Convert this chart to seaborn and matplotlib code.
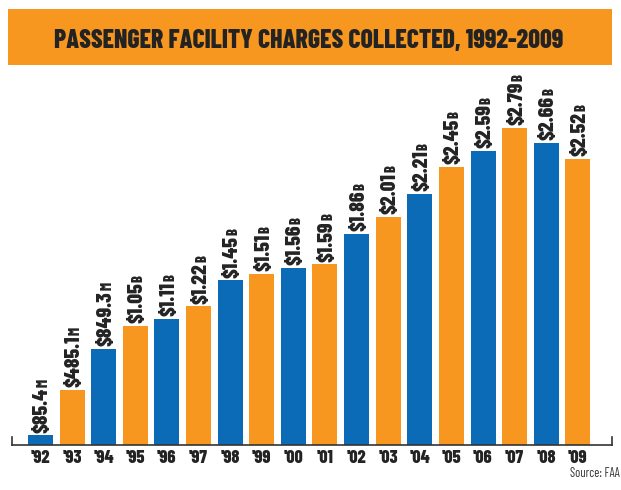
import matplotlib
matplotlib.use("Agg")
import matplotlib.pyplot as plt
import matplotlib.transforms as mtransforms
from matplotlib.patches import Rectangle
import seaborn as sns
import pandas as pd

# ---- data ----
YEARS = ["'92", "'93", "'94", "'95", "'96", "'97", "'98", "'99", "'00",
         "'01", "'02", "'03", "'04", "'05", "'06", "'07", "'08", "'09"]
VALUES_B = [0.0854, 0.4851, 0.8493, 1.05, 1.11, 1.22, 1.45, 1.51, 1.56,
            1.59, 1.86, 2.01, 2.21, 2.45, 2.59, 2.79, 2.66, 2.52]
LABEL_NUM = ["$85.4", "$485.1", "$849.3", "$1.05", "$1.11", "$1.22", "$1.45",
             "$1.51", "$1.56", "$1.59", "$1.86", "$2.01", "$2.21", "$2.45",
             "$2.59", "$2.79", "$2.66", "$2.52"]
LABEL_UNIT = ["M", "M", "M"] + ["B"] * 15

TITLE = "PASSENGER FACILITY CHARGES COLLECTED, 1992-2009"
SOURCE = "Source: FAA"

BLUE = "#0b6bb6"
ORANGE = "#f7971f"
INK = "#232323"
CONDENSED = ["Barlow Condensed", "Roboto Condensed", "DejaVu Sans"]

sns.set_theme(style="white")
plt.rcParams["font.family"] = CONDENSED

df = pd.DataFrame({"year": YEARS, "value": VALUES_B})
colors = [BLUE if i % 2 == 0 else ORANGE for i in range(len(YEARS))]

fig = plt.figure(figsize=(6.21, 4.90), dpi=100)
ax = fig.add_axes([12 / 621, 45 / 490, 600 / 621, 377 / 490])

sns.barplot(data=df, x="year", y="value", hue="year", palette=colors,
            dodge=False, legend=False, width=0.79, saturation=1,
            edgecolor="none", ax=ax)

ax.set_xlim(-0.9, 18.08)
ax.set_ylim(0, 3.32)
ax.set_xlabel("")
ax.set_ylabel("")
ax.set_yticks([])

ax.spines["top"].set_visible(False)
for side in ["left", "right", "bottom"]:
    ax.spines[side].set_color("#333333")
    ax.spines[side].set_linewidth(1.2)
ax.spines["left"].set_bounds(0, 0.07)
ax.spines["right"].set_bounds(0, 0.07)

ax.tick_params(axis="x", length=0, pad=3.5)
for lab in ax.get_xticklabels():
    lab.set_fontsize(13)
    lab.set_fontweight(800)
    lab.set_color(INK)

# value labels: rotated number with a smaller unit letter on the same baseline
MAIN_SIZE = 15.5
UNIT_SIZE = 10.5
cap_shift = MAIN_SIZE * 0.35
trans = mtransforms.offset_copy(ax.transData, fig=fig, x=cap_shift, y=2, units="points")
mains = []
for i, (v, txt) in enumerate(zip(VALUES_B, LABEL_NUM)):
    t = ax.text(i, v, txt, rotation=90, rotation_mode="anchor",
                ha="left", va="baseline", fontsize=MAIN_SIZE,
                fontweight=800, color=INK, transform=trans)
    mains.append(t)

fig.canvas.draw()
renderer = fig.canvas.get_renderer()
inv = ax.transData.inverted()
unit_trans = mtransforms.offset_copy(ax.transData, fig=fig, x=cap_shift, y=0.5, units="points")
for i, (t, unit) in enumerate(zip(mains, LABEL_UNIT)):
    bb = t.get_window_extent(renderer)
    top = inv.transform((0, bb.y1))[1]
    ax.text(i, top, unit, rotation=90, rotation_mode="anchor",
            ha="left", va="baseline", fontsize=UNIT_SIZE, fontweight=800,
            color=INK, transform=unit_trans)

# title banner
fig.patches.append(Rectangle((8 / 621, 1 - 65 / 490), 604 / 621, 56 / 490,
                             transform=fig.transFigure, facecolor=ORANGE,
                             edgecolor="none", zorder=0))
fig.text(309 / 621, 1 - 48 / 490, TITLE, ha="center", va="baseline",
         fontsize=18.5, fontweight=800, color=INK)

fig.text(620 / 621, 1 - 477 / 490, SOURCE, ha="right", va="baseline",
         fontsize=9, color="#333333")

fig.savefig("out.png", dpi=100)
